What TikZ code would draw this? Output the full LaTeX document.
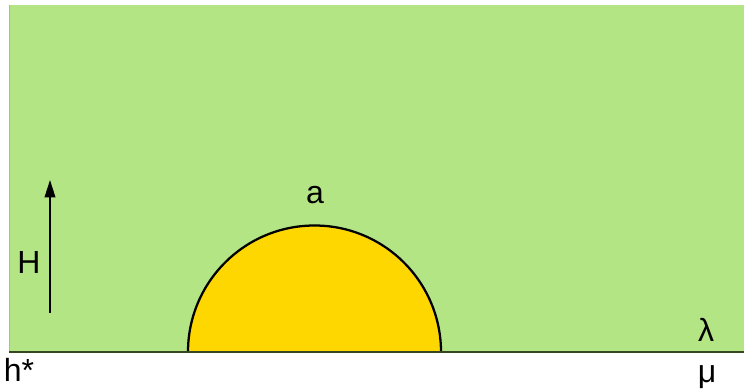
\documentclass[tikz,border=0pt]{standalone}
\usepackage{fontspec}
\setmainfont{Liberation Sans}
\usepackage{tikz}
\usetikzlibrary{arrows.meta}
\definecolor{grass}{HTML}{B3E585}
\definecolor{grassedge}{HTML}{8ED45F}
\definecolor{gold}{HTML}{FFD700}
\definecolor{ground}{HTML}{36461E}

\begin{document}
\begin{tikzpicture}[
  x=0.75pt, y=-0.75pt,
  lbl/.style={inner sep=0pt, font=\fontsize{24}{27}\selectfont},
  dome/.style={draw=black, line width=1.7pt, fill=gold},
  ax/.style={line width=1.2pt, -{Triangle[length=13pt, width=8pt]}}
]
\useasboundingbox (0,0) rectangle (744,389);
\fill[grass] (9,5) rectangle (744,352);
\draw[grassedge, line width=1pt] (9.5,5) -- (9.5,352);
\draw[dome] (188,352) arc[start angle=180, end angle=360, radius=126.5];
\draw[ground, line width=1.6pt] (9,352) -- (744,352);
\coordinate (hlo) at (50,313);
\coordinate (hhi) at (50,180);
\draw[ax] (hlo) -- (hhi);
\node[lbl] (a) at (315,195) {a};
\node[lbl] (hh) at (29,262) {H};
\node[lbl] (lam) at (706,330) {λ};
\node[lbl] (hs) at (19,370) {h*};
\node[lbl] (mu) at (707,377) {μ};
\end{tikzpicture}
\end{document}
